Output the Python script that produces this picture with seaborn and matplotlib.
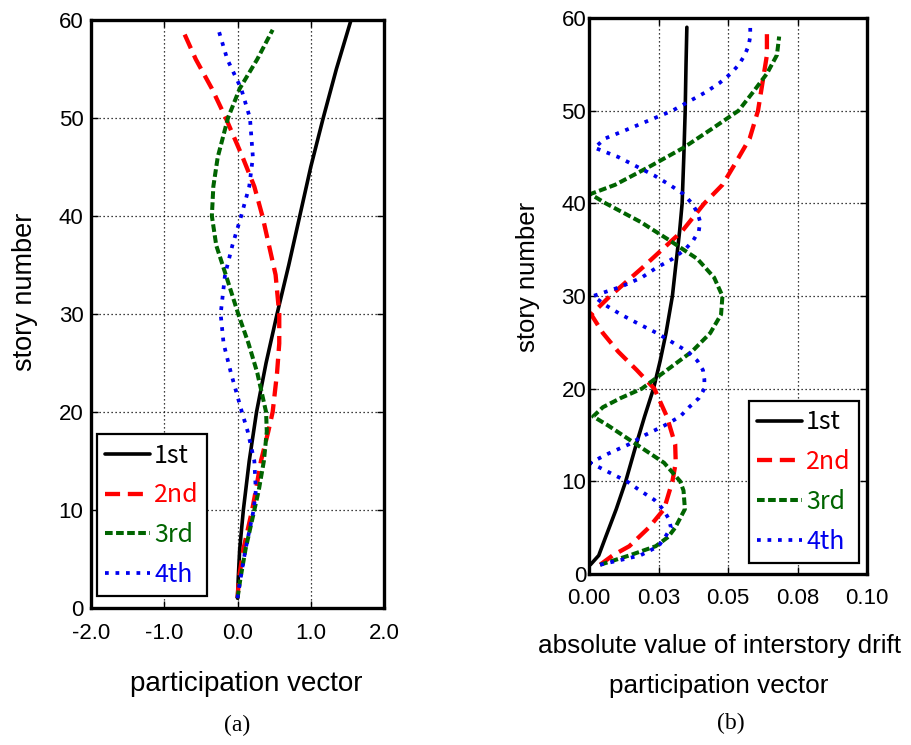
import matplotlib
matplotlib.use("Agg")
import matplotlib.pyplot as plt
from matplotlib.font_manager import FontProperties
import seaborn as sns

# ---- (a) participation vectors of the first four modes ----
story_1st_a = [1, 3, 6, 10, 15, 20, 25, 30, 35, 40, 45, 50, 55, 60]
pv_1st = [0.0, 0.01, 0.03, 0.08, 0.16, 0.26, 0.39, 0.54, 0.70, 0.85, 1.0, 1.17, 1.35, 1.55]

story_a = [1, 3, 6, 10, 12, 15, 18, 20, 24, 27, 30, 34, 37, 40, 43, 46, 50, 53, 56, 59]
pv_2nd = [0.0, 0.02, 0.08, 0.20, 0.25, 0.32, 0.42, 0.48, 0.54, 0.57, 0.57, 0.52, 0.43,
          0.34, 0.23, 0.07, -0.16, -0.35, -0.57, -0.75]
pv_3rd = [0.0, 0.04, 0.11, 0.23, 0.29, 0.36, 0.40, 0.39, 0.27, 0.15, 0.01, -0.16, -0.29,
          -0.35, -0.33, -0.27, -0.13, 0.03, 0.27, 0.48]
pv_4th = [0.0, 0.04, 0.11, 0.22, 0.25, 0.23, 0.14, 0.06, -0.09, -0.19, -0.23, -0.17, -0.07,
          0.05, 0.16, 0.21, 0.17, 0.05, -0.14, -0.26]

# ---- (b) absolute value of interstory drift participation vectors ----
story_1st_b = [1, 2, 4, 7, 10, 14, 17, 20, 23, 26, 30, 33, 37, 40, 45, 50, 55, 59]
drift_1st = [0.0005, 0.0035, 0.006, 0.0098, 0.0132, 0.017, 0.0200, 0.0232, 0.0256, 0.0277,
             0.0300, 0.0311, 0.0326, 0.0335, 0.0341, 0.0346, 0.0349, 0.0352]

story_2nd_b = [1, 2, 3, 5, 7, 10, 12, 14, 17, 20, 22, 24, 26, 28, 30, 33, 37, 40, 42, 44,
               47, 50, 53, 56, 59]
drift_2nd = [0.004, 0.0085, 0.0145, 0.0215, 0.027, 0.030, 0.0312, 0.031, 0.028, 0.0235,
             0.0172, 0.0105, 0.005, 0.0008, 0.0076, 0.019, 0.0335, 0.0415, 0.048, 0.052,
             0.0578, 0.0608, 0.0624, 0.064, 0.064]

story_3rd_b = [1, 2, 3, 4, 5, 7, 9, 10, 12, 14, 16, 17, 18, 19, 20, 22, 24, 26, 28, 30, 32,
               34, 36, 38, 40, 41, 42, 44, 46, 48, 50, 52, 54, 56, 58]
drift_3rd = [0.004, 0.0145, 0.024, 0.0285, 0.031, 0.0345, 0.034, 0.0328, 0.027, 0.017,
             0.007, 0.0015, 0.005, 0.0115, 0.019, 0.028, 0.037, 0.0436, 0.0475, 0.048,
             0.045, 0.039, 0.029, 0.0185, 0.006, 0.0005, 0.0094, 0.022, 0.034, 0.044,
             0.0538, 0.059, 0.064, 0.0676, 0.0684]

story_4th_b = list(range(1, 60))
drift_4th = [0.004, 0.0184, 0.025, 0.0274, 0.0295, 0.0286, 0.0266, 0.0235, 0.0184, 0.0136,
             0.007, 0.0005, 0.007, 0.0144, 0.0202, 0.027, 0.0328, 0.036, 0.0396, 0.0415,
             0.0415, 0.041, 0.039, 0.0355, 0.030, 0.0244, 0.0178, 0.0115, 0.006, 0.0015,
             0.0115, 0.019, 0.024, 0.030, 0.0345, 0.0375, 0.0395, 0.040, 0.039, 0.037,
             0.034, 0.029, 0.0235, 0.017, 0.0105, 0.002, 0.0058, 0.014, 0.022, 0.030,
             0.036, 0.042, 0.047, 0.051, 0.054, 0.056, 0.0574, 0.058, 0.058]

mode_labels = ["1st", "2nd", "3rd", "4th"]
xticks_a = [-2.0, -1.0, 0.0, 1.0, 2.0]
xticklabels_a = ["-2.0", "-1.0", "0.0", "1.0", "2.0"]
xticks_b = [0.0, 0.025, 0.05, 0.075, 0.10]
xticklabels_b = ["0.00", "0.03", "0.05", "0.08", "0.10"]
yticks = [0, 10, 20, 30, 40, 50, 60]

sns.set_theme(style="white")
plt.rcParams["font.family"] = ["Liberation Sans", "DejaVu Sans"]
plt.rcParams["text.color"] = "black"
plt.rcParams["axes.labelcolor"] = "black"
plt.rcParams["xtick.color"] = "black"
plt.rcParams["ytick.color"] = "black"

styles = [
    dict(color="black", lw=2.6, linestyle="-"),
    dict(color="#ff0000", lw=3.1, linestyle=(0, (3.5, 1.8))),
    dict(color="#006400", lw=2.9, linestyle=(0, (1.9, 0.85))),
    dict(color="#0000ee", lw=2.7, linestyle=(0, (1.0, 1.8))),
]

fig = plt.figure(figsize=(9.11, 7.45), dpi=100)
W, H = 911, 745
ax_a = fig.add_axes([91 / W, 1 - 608 / H, 293 / W, 588 / H])
ax_b = fig.add_axes([589 / W, 1 - 574 / H, 278 / W, 556 / H])

series_a = [(pv_1st, story_1st_a), (pv_2nd, story_a), (pv_3rd, story_a), (pv_4th, story_a)]
series_b = [(drift_1st, story_1st_b), (drift_2nd, story_2nd_b),
            (drift_3rd, story_3rd_b), (drift_4th, story_4th_b)]

for ax, series in ((ax_a, series_a), (ax_b, series_b)):
    for (xv, yv), lab, st in zip(series, mode_labels, styles):
        sns.lineplot(x=xv, y=yv, ax=ax, sort=False, estimator=None, orient="y",
                     label=lab, **st)

legend_font = FontProperties(family=["Noto Sans CJK JP", "DejaVu Sans"], size=18)


def style_axes(ax, xlim, xticks, xticklabels, ypad, xpad):
    ax.set_xlim(*xlim)
    ax.set_ylim(0, 60)
    ax.set_xticks(xticks)
    ax.set_xticklabels(xticklabels)
    ax.set_yticks(yticks)
    ax.set_xlabel("")
    ax.set_ylabel("")
    ax.grid(True, color="black", linestyle=(0, (1, 2.2)), linewidth=0.9)
    for sp in ax.spines.values():
        sp.set_visible(True)
        sp.set_color("black")
        sp.set_linewidth(2.4)
    ax.tick_params(axis="both", which="major", direction="in", length=5, width=1,
                   top=True, right=True, bottom=True, left=True,
                   labelsize=16, colors="black")
    ax.tick_params(axis="y", pad=ypad)
    ax.tick_params(axis="x", pad=xpad)
    ax.set_facecolor("white")


style_axes(ax_a, (-2.0, 2.0), xticks_a, xticklabels_a, ypad=5.5, xpad=11)
style_axes(ax_b, (0.0, 0.10), xticks_b, xticklabels_b, ypad=2.0, xpad=10)

for ax, anchor, loc in ((ax_a, (0.0205, 0.0204), "lower left"),
                        (ax_b, (0.971, 0.0198), "lower right")):
    leg = ax.legend(loc=loc, bbox_to_anchor=anchor, borderaxespad=0, prop=legend_font,
                    labelcolor="linecolor", frameon=True, fancybox=False,
                    edgecolor="black", framealpha=1, handlelength=1.8,
                    handletextpad=0.15, labelspacing=0.55, borderpad=0.33)
    leg.get_frame().set_linewidth(1.6)

# axis titles and panel captions
fig.text(25 / W, 1 - 292 / H, "story number", rotation=90, ha="center", va="center",
         fontsize=19.5)
fig.text(528 / W, 1 - 277 / H, "story number", rotation=90, ha="center", va="center",
         fontsize=18.5)
fig.text(246 / W, 1 - 684 / H, "participation vector", ha="center", va="center",
         fontsize=20)
fig.text(719 / W, 1 - 646 / H, "absolute value of interstory drift", ha="center",
         va="center", fontsize=18.8)
fig.text(719 / W, 1 - 686 / H, "participation vector", ha="center", va="center",
         fontsize=18.8)
fig.text(237 / W, 1 - 725 / H, "(a)", ha="center", va="center", fontsize=17,
         family=["Liberation Serif", "DejaVu Serif"])
fig.text(731 / W, 1 - 723 / H, "(b)", ha="center", va="center", fontsize=17,
         family=["Liberation Serif", "DejaVu Serif"])

fig.savefig("out.png", dpi=100, facecolor="white")
